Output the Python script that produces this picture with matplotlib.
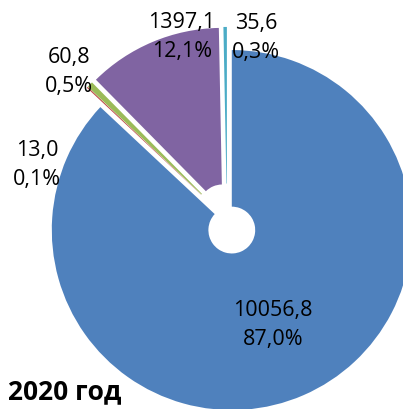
import matplotlib
matplotlib.use("Agg")
import matplotlib.pyplot as plt

# data (2020)
values = [10056.8, 13.0, 60.8, 1397.1, 35.6]
value_labels = ["10056,8", "13,0", "60,8", "1397,1", "35,6"]
share_labels = ["87,0%", "0,1%", "0,5%", "12,1%", "0,3%"]
colors = ["#4F81BD", "#C0504D", "#9BBB59", "#8064A2", "#4BACC6"]
title = "2020 год"

# label centres in pixels of the 403x409 image (layout only)
label_px = [(273, 325), (37, 165), (69, 72), (182, 37), (256, 38)]

W, H = 403, 409
R_PX = 180.0          # pie radius in pixels
CX, CY = 227.0, 219.0  # pie centre in pixels

plt.rcParams["font.family"] = ["Open Sans", "DejaVu Sans"]

fig = plt.figure(figsize=(W / 100, H / 100), dpi=100)
ax = fig.add_axes([0, 0, 1, 1])

ax.pie(values, colors=colors, startangle=90, counterclock=False,
       explode=[0.067] * len(values), radius=1.0,
       wedgeprops=dict(width=0.87, linewidth=0))

ax.set_xlim(-CX / R_PX, (W - CX) / R_PX)
ax.set_ylim((CY - H) / R_PX, CY / R_PX)
ax.set_aspect("equal")
ax.axis("off")

for (px, py), v, s in zip(label_px, value_labels, share_labels):
    ax.text(px / W, 1 - py / H, f"{v}\n{s}", transform=ax.transAxes,
            ha="center", va="center", fontsize=15.5, linespacing=1.5,
            color="black")

ax.text(8 / W, 1 - 392 / H, title, transform=ax.transAxes,
        ha="left", va="center", fontsize=19, fontweight="bold",
        color="black")

fig.savefig("out.png", dpi=100)
